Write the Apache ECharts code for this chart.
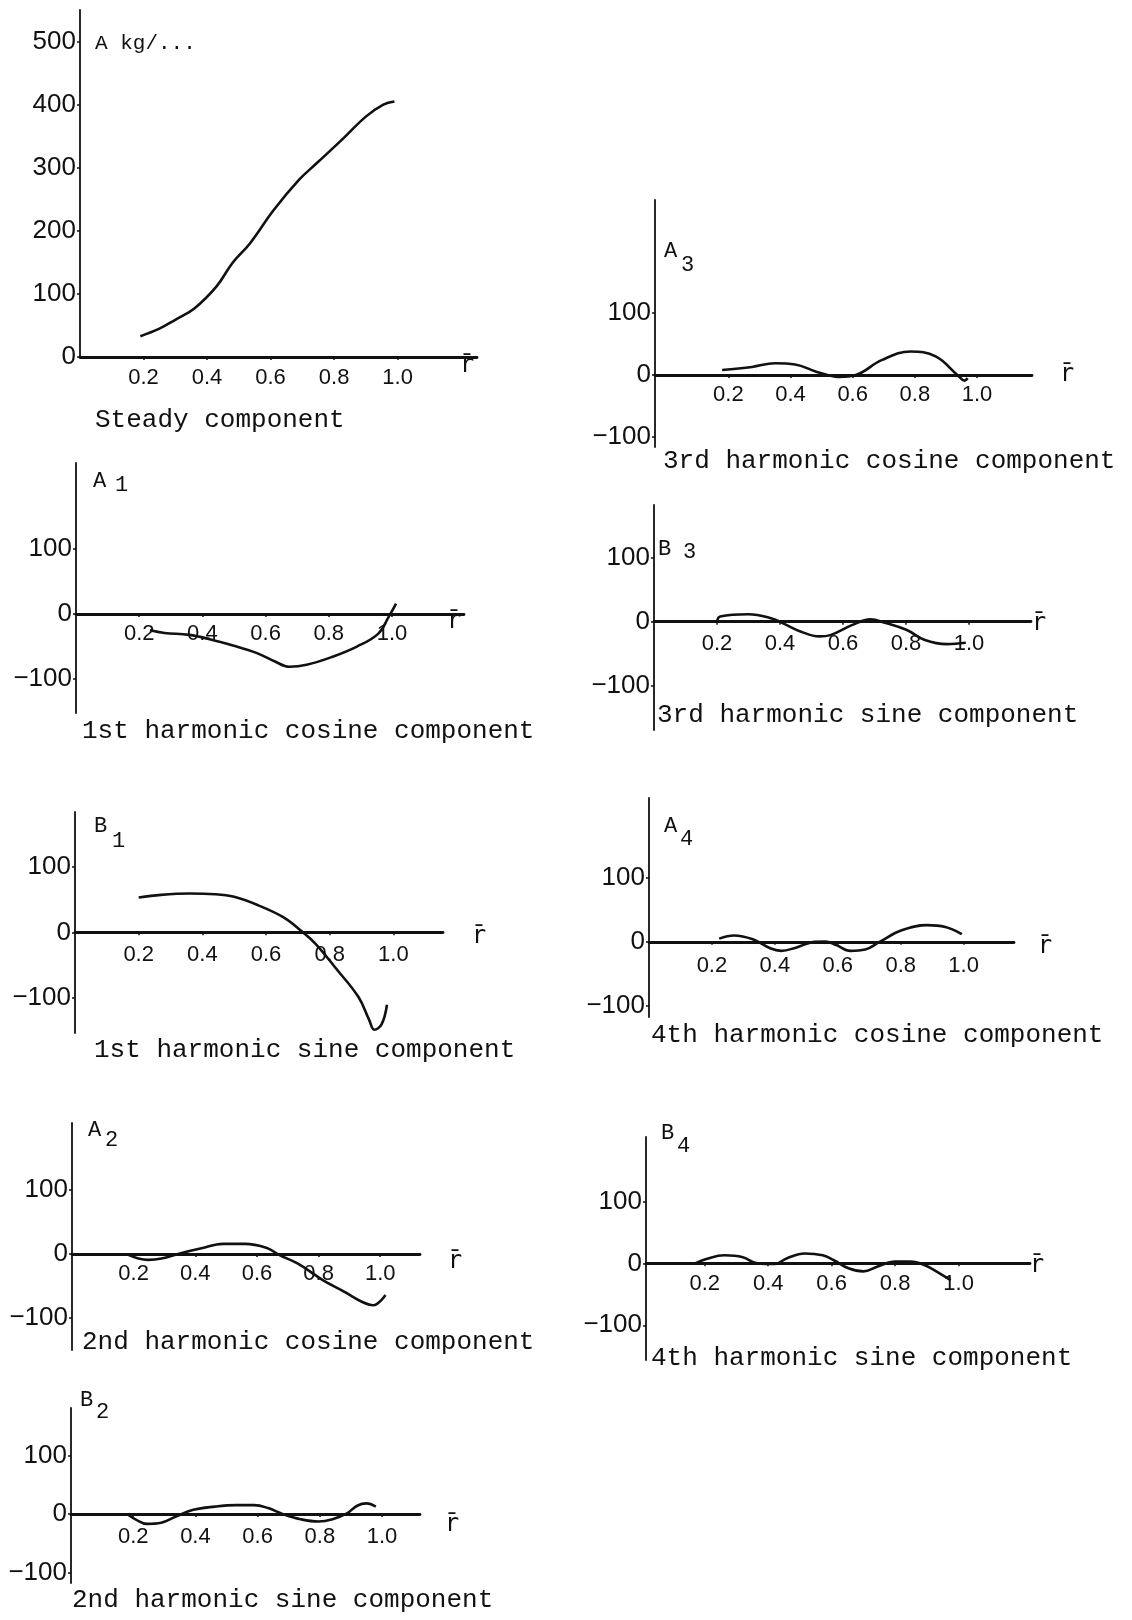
<!DOCTYPE html>
<html><head><meta charset="utf-8">
<script src="https://cdn.jsdelivr.net/npm/echarts@6/dist/echarts.min.js"></script>
<style>html,body{margin:0;padding:0;background:#fff}#c{width:1132px;height:1620px}</style>
</head><body><div id="c"></div>
<script>
// ---- tick labels ----
const xTickValues = [0.2, 0.4, 0.6, 0.8, 1.0];
const yTicksSteady = [0, 100, 200, 300, 400, 500];
const yTicksHarmonic = [-100, 0, 100];

// ---- data (r, value) ----
const steadyR = [0.19,0.25,0.30,0.36,0.43,0.48,0.535,0.61,0.69,0.745,0.83,0.90,0.955,0.99];
const steadyA = [33,45,59,77,112,149,180,233,281,307,347,381,400,405];

const a1R = [0.234,0.28,0.358,0.426,0.494,0.573,0.63,0.675,0.73,0.81,0.889,0.957,0.99,1.013];
const a1V = [-25,-29,-32,-39,-48,-60,-73,-81,-78,-66,-50,-30,-4,16];

const b1R = [0.2,0.27,0.36,0.44,0.5,0.576,0.654,0.71,0.755,0.82,0.89,0.924,0.94,0.963,0.98];
const b1V = [53,57,59,58,54,41,23,2.5,-17,-55,-98,-133,-148,-140,-110];

const a2R = [0.177,0.247,0.29,0.35,0.42,0.49,0.56,0.63,0.675,0.733,0.815,0.884,0.942,0.977,1.017];
const a2V = [0,-9,-7,1,9,16,16,10,-2,-15,-41,-59,-75,-80,-64];

const b2R = [0.18,0.21,0.244,0.29,0.335,0.393,0.462,0.531,0.589,0.634,0.68,0.738,0.796,0.841,0.887,0.92,0.95,0.98];
const b2V = [0,-10,-17,-15,-5,7,12.5,15,15,10,0,-9,-13,-9,1,14,18,12.5];

const a3R = [0.18,0.276,0.35,0.415,0.485,0.555,0.61,0.693,0.786,0.867,0.937,0.96,0.97];
const a3V = [8,13,19,17,5,-3,0,24,38,30,0,-9,-5];

const b3R = [0.2,0.21,0.30,0.374,0.41,0.467,0.525,0.56,0.63,0.687,0.733,0.803,0.86,0.93,0.99];
const b3V = [0,8,11.5,5,-2.6,-15.6,-23,-21,-5,3.6,-1.6,-13,-28.6,-35,-33];

const a4R = [0.223,0.27,0.33,0.385,0.42,0.467,0.525,0.56,0.595,0.64,0.687,0.733,0.803,0.884,0.942,0.994];
const a4V = [5,10,4,-10,-14,-9,0,0.5,-5,-14,-12,0,18,26,23,12];

const b4R = [0.17,0.205,0.262,0.32,0.366,0.42,0.458,0.515,0.572,0.607,0.653,0.70,0.745,0.80,0.848,0.894,0.94,0.975];
const b4V = [0,7,13,10,0,-1,8,16,13,5,-8,-13,-5,3,3,-3,-16,-27];

// ---- panel layout (positions / styles) ----
const panels = [
  {r:steadyR, v:steadyA, yt:yTicksSteady, left:80, top:10, bottom:357, w:397, xmin:0, xmax:1.25, ymin:0, ymax:550, lm:10,
   title:'Steady component', tx:95, ty:420, sym:'A kg/...', sx:95, sy:43, sub:'', rx:467, ry:366},
  {r:a3R, v:a3V, yt:yTicksHarmonic, left:655, top:200, bottom:447, w:377, xmin:-0.036, xmax:1.177, ymin:-116, ymax:282, lm:9,
   title:'3rd harmonic cosine component', tx:663, ty:461, sym:'A', sx:664, sy:251, sub:'3', bx:681, by:265, rx:1067, ry:375},
  {r:a1R, v:a1V, yt:yTicksHarmonic, left:76, top:463, bottom:713, w:388, xmin:0, xmax:1.228, ymin:-152, ymax:232, lm:9,
   title:'1st harmonic cosine component', tx:82, ty:731, sym:'A', sx:93, sy:481, sub:'1', bx:115, by:485, rx:454, ry:622},
  {r:b3R, v:b3V, yt:yTicksHarmonic, left:654, top:505, bottom:730, w:377, xmin:0, xmax:1.197, ymin:-169, ymax:182, lm:11,
   title:'3rd harmonic sine component', tx:657, ty:715, sym:'B', sx:658, sy:549, sub:'3', bx:683, by:552, rx:1039, ry:624},
  {r:b1R, v:b1V, yt:yTicksHarmonic, left:75, top:812, bottom:1033, w:368, xmin:0, xmax:1.156, ymin:-153, ymax:183, lm:12,
   title:'1st harmonic sine component', tx:94, ty:1050, sym:'B', sx:94, sy:826, sub:'1', bx:112, by:841, rx:479, ry:937},
  {r:a4R, v:a4V, yt:yTicksHarmonic, left:649, top:798, bottom:1017, w:365, xmin:0, xmax:1.16, ymin:-117, ymax:224, lm:13,
   title:'4th harmonic cosine component', tx:651, ty:1035, sym:'A', sx:664, sy:826, sub:'4', bx:680, by:839, rx:1045, ry:947},
  {r:a2R, v:a2V, yt:yTicksHarmonic, left:72, top:1123, bottom:1350, w:348, xmin:0, xmax:1.129, ymin:-150, ymax:205, lm:9,
   title:'2nd harmonic cosine component', tx:82, ty:1342, sym:'A', sx:88, sy:1130, sub:'2', bx:105, by:1140, rx:455, ry:1262},
  {r:b4R, v:b4V, yt:yTicksHarmonic, left:646, top:1137, bottom:1360, w:384, xmin:0.015, xmax:1.225, ymin:-156, ymax:204, lm:10,
   title:'4th harmonic sine component', tx:651, ty:1358, sym:'B', sx:661, sy:1133, sub:'4', bx:677, by:1146, rx:1037, ry:1266},
  {r:b2R, v:b2V, yt:yTicksHarmonic, left:71, top:1408, bottom:1583, w:349, xmin:0, xmax:1.122, ymin:-118, ymax:181, lm:12,
   title:'2nd harmonic sine component', tx:72, ty:1600, sym:'B', sx:80, sy:1400, sub:'2', bx:96, by:1412, rx:452, ry:1525}
];

const INK = '#111';
const grid = [], xAxis = [], yAxis = [], series = [], graphic = [];

function txt(x, y, text, font, align) {
  return {type:'text', x:x, y:y, silent:true,
    style:{text:text, font:font, fill:INK, textAlign:align||'left', textVerticalAlign:'middle', align:align||'left', verticalAlign:'middle'}};
}

panels.forEach((p, i) => {
  const h = p.bottom - p.top;
  const zeroFromBottom = (0 - p.ymin) / (p.ymax - p.ymin) * h;
  grid.push({left:p.left, top:p.top, width:p.w, height:h, outerBoundsMode:'none', containLabel:false});
  xAxis.push({
    gridIndex:i, type:'value', min:p.xmin, max:p.xmax, position:'bottom', offset:-zeroFromBottom,
    axisLine:{show:true, onZero:false, lineStyle:{color:INK, width:2.8}},
    axisTick:{show:true, customValues:xTickValues, length:3, lineStyle:{color:INK, width:1.5}},
    axisLabel:{customValues:xTickValues, formatter:v => v.toFixed(1), fontSize:22, color:INK,
      fontFamily:'Liberation Sans', margin:p.lm},
    splitLine:{show:false}
  });
  yAxis.push({
    gridIndex:i, type:'value', min:p.ymin, max:p.ymax,
    axisLine:{show:true, onZero:false, lineStyle:{color:INK, width:1.8}},
    axisTick:{show:true, customValues:p.yt, length:3, lineStyle:{color:INK, width:1.5}},
    axisLabel:{customValues:p.yt, formatter:v => (v < 0 ? '\u2212' + Math.abs(v) : String(v)), fontSize:26, color:INK,
      fontFamily:'Liberation Sans', margin:4},
    splitLine:{show:false}
  });
  series.push({
    type:'line', xAxisIndex:i, yAxisIndex:i, data:p.r.map((r, k) => [r, p.v[k]]),
    showSymbol:false, smooth:0.4, lineStyle:{color:INK, width:2.6}, silent:true, animation:false
  });
  graphic.push(txt(p.tx, p.ty, p.title, '26px "Liberation Mono"'));
  if (p.sub) {
    graphic.push(txt(p.sx, p.sy, p.sym, '22px "Liberation Mono"'));
    graphic.push(txt(p.bx, p.by, p.sub, '22px "Liberation Mono"'));
  } else {
    graphic.push(txt(p.sx, p.sy, p.sym, '21px "Liberation Mono"'));
  }
  graphic.push(txt(p.rx, p.ry, 'r\u0304', '24px "DejaVu Sans Mono"', 'center'));
});

const chart = echarts.init(document.getElementById('c'), null, {renderer:'canvas'});
chart.setOption({animation:false, backgroundColor:'#fff', grid, xAxis, yAxis, series, graphic});
</script></body></html>
